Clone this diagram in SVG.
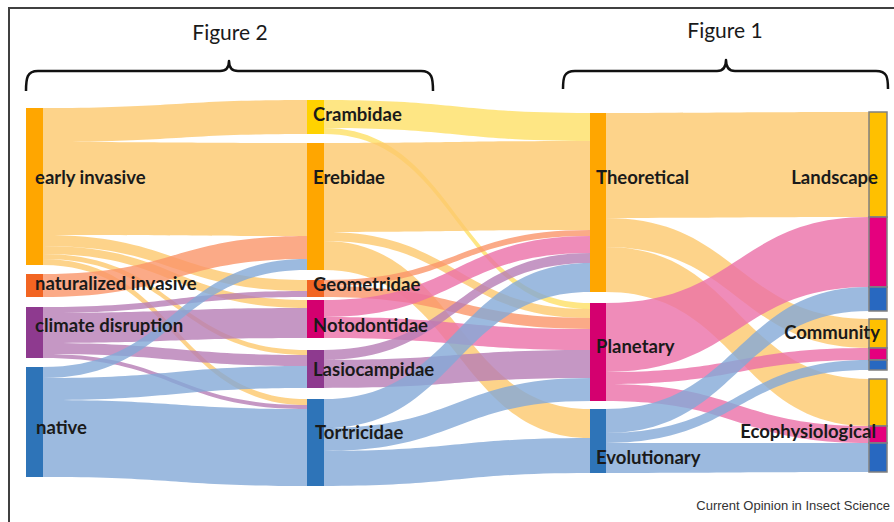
<svg xmlns="http://www.w3.org/2000/svg" width="894" height="522" viewBox="0 0 894 522">
<style>
.lbl{font-family:Lato,"Open Sans",sans-serif;font-weight:700;font-size:18.5px;fill:#1a1a1a}
.fig{font-family:Lato,"Open Sans",sans-serif;font-size:21px;fill:#1a1a1a}
.brace{fill:none;stroke:#111;stroke-width:2.5;stroke-linejoin:round}
.lk{fill-opacity:0.8;stroke:none}
.o{fill:#FCC86D}.s{fill:#FA9569}.p{fill:#B67DB5}.b{fill:#83A9D7}.y{fill:#FEE065}.m{fill:#EB6FA8}
.c4{stroke:#808080;stroke-width:1.5}
</style>
<rect width="894" height="522" fill="#fff"/>
<path d="M9,522 L9,8 L894,8" fill="none" stroke="#404040" stroke-width="2"/>
<g id="headers">
<text class="fig" x="230" y="40" text-anchor="middle">Figure 2</text>
<path class="brace" d="M26,91 C26,78 27,71 38,71 L220,71 C226,71 229,68 229,61 C229,68 232,71 238,71 L421,71 C432,71 433,78 433,91"/>
<text class="fig" x="725" y="38" text-anchor="middle">Figure 1</text>
<path class="brace" d="M563,89 C563,77 564,71 575,71 L717,71 C723,71 726,68 726,60 C726,68 729,71 735,71 L876,71 C887,71 888,77 888,89"/>
</g>
<g id="connectors">
<path class="lk o" d="M43,108 C175,108 175,100 307,100 L307,134 C175,134 175,142 43,142 Z"/>
<path class="lk o" d="M43,142 C175,142 175,143 307,143 L307,236 C175,236 175,235 43,235 Z"/>
<path class="lk o" d="M43,235 C175,235 175,280 307,280 L307,291 C175,291 175,246 43,246 Z"/>
<path class="lk o" d="M43,246 C175,246 175,300 307,300 L307,308 C175,308 175,254 43,254 Z"/>
<path class="lk o" d="M43,254 C175,254 175,350 307,350 L307,355 C175,355 175,259 43,259 Z"/>
<path class="lk o" d="M43,259 C175,259 175,399 307,399 L307,405 C175,405 175,265 43,265 Z"/>
<path class="lk s" d="M43,274 C175,274 175,236 307,236 L307,259 C175,259 175,297 43,297 Z"/>
<path class="lk p" d="M43,307 C175,307 175,291 307,291 L307,297 C175,297 175,313 43,313 Z"/>
<path class="lk p" d="M43,313 C175,313 175,308 307,308 L307,338 C175,338 175,343 43,343 Z"/>
<path class="lk p" d="M43,343 C175,343 175,355 307,355 L307,366 C175,366 175,354 43,354 Z"/>
<path class="lk p" d="M43,354 C175,354 175,405 307,405 L307,409 C175,409 175,358 43,358 Z"/>
<path class="lk b" d="M43,367 C175,367 175,259 307,259 L307,270 C175,270 175,378 43,378 Z"/>
<path class="lk b" d="M43,378 C175,378 175,366 307,366 L307,388 C175,388 175,400 43,400 Z"/>
<path class="lk b" d="M43,400 C175,400 175,409 307,409 L307,486 C175,486 175,477 43,477 Z"/>

<path class="lk y" d="M324,100 C457,100 457,113 590,113 L590,141 C457,141 457,128 324,128 Z"/>
<path class="lk y" d="M324,128 C457,128 457,303 590,303 L590,309 C457,309 457,134 324,134 Z"/>
<path class="lk o" d="M324,143 C457,143 457,141 590,141 L590,230 C457,230 457,232 324,232 Z"/>
<path class="lk o" d="M324,232 C457,232 457,309 590,309 L590,318 C457,318 457,241 324,241 Z"/>
<path class="lk o" d="M324,241 C457,241 457,409 590,409 L590,438 C457,438 457,270 324,270 Z"/>
<path class="lk s" d="M324,280 C457,280 457,230 590,230 L590,236 C457,236 457,286 324,286 Z"/>
<path class="lk s" d="M324,286 C457,286 457,318 590,318 L590,329 C457,329 457,297 324,297 Z"/>
<path class="lk m" d="M324,300 C457,300 457,236 590,236 L590,253 C457,253 457,317 324,317 Z"/>
<path class="lk m" d="M324,317 C457,317 457,329 590,329 L590,350 C457,350 457,338 324,338 Z"/>
<path class="lk p" d="M324,350 C457,350 457,253 590,253 L590,263 C457,263 457,360 324,360 Z"/>
<path class="lk p" d="M324,360 C457,360 457,350 590,350 L590,378 C457,378 457,388 324,388 Z"/>
<path class="lk b" d="M324,399 C457,399 457,263 590,263 L590,292 C457,292 457,428 324,428 Z"/>
<path class="lk b" d="M324,428 C457,428 457,378 590,378 L590,401 C457,401 457,451 324,451 Z"/>
<path class="lk b" d="M324,451 C457,451 457,438 590,438 L590,473 C457,473 457,486 324,486 Z"/>

<path class="lk o" d="M606,113 C738,113 738,112 869,112 L869,217 C738,217 738,218 606,218 Z"/>
<path class="lk o" d="M606,218 C738,218 738,319 869,319 L869,348 C738,348 738,247 606,247 Z"/>
<path class="lk o" d="M606,247 C738,247 738,379 869,379 L869,426 C738,426 738,292 606,292 Z"/>
<path class="lk m" d="M606,303 C738,303 738,217 869,217 L869,287 C738,287 738,372 606,372 Z"/>
<path class="lk m" d="M606,372 C738,372 738,348 869,348 L869,360 C738,360 738,384 606,384 Z"/>
<path class="lk m" d="M606,384 C738,384 738,426 869,426 L869,443 C738,443 738,401 606,401 Z"/>
<path class="lk b" d="M606,409 C738,409 738,287 869,287 L869,311 C738,311 738,433 606,433 Z"/>
<path class="lk b" d="M606,433 C738,433 738,360 869,360 L869,370 C738,370 738,443 606,443 Z"/>
<path class="lk b" d="M606,443 C738,443 738,443 869,443 L869,472 C738,472 738,473 606,473 Z"/>
</g>
<g id="early-invasive"><rect x="26" y="108" width="17" height="157" fill="#FFA600"/><text class="lbl" x="35" y="184">early invasive</text></g>
<g id="naturalized-invasive"><rect x="26" y="274" width="17" height="23" fill="#F26522"/><text class="lbl" x="35" y="290">naturalized invasive</text></g>
<g id="climate-disruption"><rect x="26" y="307" width="17" height="51" fill="#8E3A8F"/><text class="lbl" x="35" y="332">climate disruption</text></g>
<g id="native"><rect x="26" y="367" width="17" height="110" fill="#2E74B8"/><text class="lbl" x="36" y="434">native</text></g>
<g id="crambidae"><rect x="307" y="100" width="17" height="34" fill="#FFD200"/><text class="lbl" x="313" y="121">Crambidae</text></g>
<g id="erebidae"><rect x="307" y="143" width="17" height="127" fill="#FFA600"/><text class="lbl" x="313" y="184">Erebidae</text></g>
<g id="geometridae"><rect x="307" y="280" width="17" height="17" fill="#F26522"/><text class="lbl" x="313" y="291">Geometridae</text></g>
<g id="notodontidae"><rect x="307" y="300" width="17" height="38" fill="#D4006F"/><text class="lbl" x="313" y="332">Notodontidae</text></g>
<g id="lasiocampidae"><rect x="307" y="350" width="17" height="38" fill="#8E3A8F"/><text class="lbl" x="313" y="376">Lasiocampidae</text></g>
<g id="tortricidae"><rect x="307" y="399" width="17" height="87" fill="#2E74B8"/><text class="lbl" x="315" y="439">Tortricidae</text></g>
<g id="theoretical"><rect x="590" y="113" width="16" height="179" fill="#FFA600"/><text class="lbl" x="596" y="184">Theoretical</text></g>
<g id="planetary"><rect x="590" y="303" width="16" height="98" fill="#D4006F"/><text class="lbl" x="596" y="353">Planetary</text></g>
<g id="evolutionary"><rect x="590" y="409" width="16" height="64" fill="#2E74B8"/><text class="lbl" x="596" y="464">Evolutionary</text></g>
<g id="landscape">
<rect class="c4" x="869" y="112" width="18" height="105" fill="#FFC000"/>
<rect class="c4" x="869" y="217" width="18" height="70" fill="#E5007E"/>
<rect class="c4" x="869" y="287" width="18" height="24" fill="#2868C0"/>
<text class="lbl" x="878" y="184" text-anchor="end">Landscape</text></g>
<g id="community">
<rect class="c4" x="869" y="319" width="18" height="29" fill="#FFC000"/>
<rect class="c4" x="869" y="348" width="18" height="12" fill="#E5007E"/>
<rect class="c4" x="869" y="360" width="18" height="10" fill="#2868C0"/>
<text class="lbl" x="880" y="339" text-anchor="end">Community</text></g>
<g id="ecophysiological">
<rect class="c4" x="869" y="379" width="18" height="47" fill="#FFC000"/>
<rect class="c4" x="869" y="426" width="18" height="17" fill="#E5007E"/>
<rect class="c4" x="869" y="443" width="18" height="29" fill="#2868C0"/>
<text class="lbl" x="876" y="438" text-anchor="end">Ecophysiological</text></g>
<text x="890" y="510" text-anchor="end" font-family="Liberation Sans, Arial, sans-serif" font-size="13" fill="#333">Current Opinion in Insect Science</text>
</svg>
